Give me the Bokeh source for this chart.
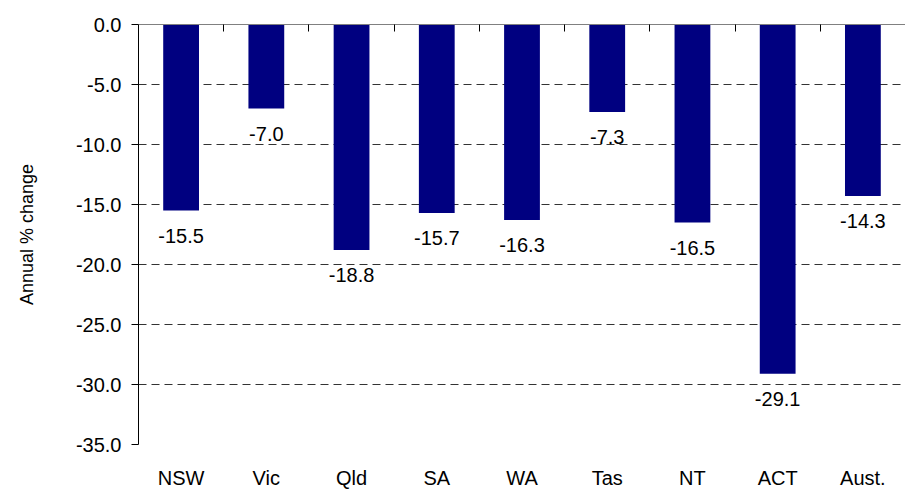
from bokeh.plotting import figure
from bokeh.models import (ColumnDataSource, Range1d, LinearAxis,
                          FixedTicker, NumeralTickFormatter, Grid)
from bokeh.core.properties import value
from bokeh.embed import file_html
from bokeh.resources import INLINE

categories = ["NSW", "Vic", "Qld", "SA", "WA", "Tas", "NT", "ACT", "Aust."]
changes = [-15.5, -7.0, -18.8, -15.7, -16.3, -7.3, -16.5, -29.1, -14.3]
y_ticks = [0, -5, -10, -15, -20, -25, -30, -35]

FONT = "'Liberation Sans', Arial, sans-serif"

n = len(categories)
centers = [i + 0.5 for i in range(n)]
src = ColumnDataSource(dict(x=centers, val=changes,
                            lab=["%.1f" % v for v in changes]))

p = figure(frame_width=767, frame_height=420, output_backend="svg",
           toolbar_location=None,
           x_range=Range1d(0, n), y_range=Range1d(-35, 0),
           x_axis_location=None, y_axis_location=None,
           min_border=0, min_border_left=138, min_border_top=24,
           min_border_bottom=40, min_border_right=0)
p.outline_line_color = None
p.background_fill_color = "white"
p.border_fill_color = "white"

p.xgrid.grid_line_color = None
p.ygrid.grid_line_color = None

g = Grid(dimension=1, ticker=FixedTicker(ticks=y_ticks[1:]))
g.grid_line_color = "#333333"
g.grid_line_dash = "8 5"
g.grid_line_width = 1
p.add_layout(g)

p.vbar(x="x", top=0, bottom="val", width=0.42, source=src,
       fill_color="#000080", line_color=None)

p.text(x="x", y="val", text="lab", source=src, y_offset=25,
       text_align="center", text_baseline="middle", text_color="black",
       text_font=value(FONT), text_font_size="20px")

# left axis
yaxis = LinearAxis(ticker=FixedTicker(ticks=y_ticks),
                   formatter=NumeralTickFormatter(format="0.0"))
yaxis.axis_line_color = "black"
yaxis.major_tick_line_color = "black"
yaxis.major_tick_out = 7
yaxis.major_tick_in = 0
yaxis.minor_tick_line_color = None
yaxis.major_label_standoff = 10
yaxis.major_label_text_font = FONT
yaxis.major_label_text_font_size = "20px"
yaxis.major_label_text_color = "black"
yaxis.axis_label = "Annual % change"
yaxis.axis_label_text_font = FONT
yaxis.axis_label_text_font_size = "18px"
yaxis.axis_label_text_font_style = "normal"
yaxis.axis_label_text_color = "black"
yaxis.axis_label_standoff = 36
p.add_layout(yaxis, "left")

# bottom category labels
xaxis = LinearAxis(ticker=FixedTicker(ticks=centers))
xaxis.major_label_overrides = {c: lab for c, lab in zip(centers, categories)}
xaxis.axis_line_color = None
xaxis.major_tick_line_color = None
xaxis.minor_tick_line_color = None
xaxis.major_label_standoff = 16
xaxis.major_label_text_font = FONT
xaxis.major_label_text_font_size = "20px"
xaxis.major_label_text_color = "black"
p.add_layout(xaxis, "below")

# top axis line at zero with ticks between categories
top = LinearAxis(ticker=FixedTicker(ticks=list(range(1, n))))
top.axis_line_color = "#808080"
top.major_tick_line_color = "black"
top.major_tick_in = 7
top.major_tick_out = 0
top.minor_tick_line_color = None
top.major_label_text_font_size = "0px"
top.major_label_text_alpha = 0
top.major_label_standoff = 0
p.add_layout(top, "above")

open("out.html", "w").write(file_html(p, INLINE))
